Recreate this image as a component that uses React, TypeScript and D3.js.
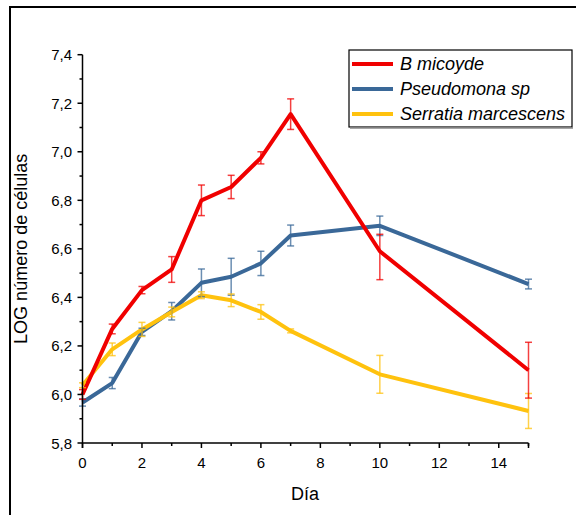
import React from "react";
import * as d3 from "d3";

// días de muestreo
const days = [0, 1, 2, 3, 4, 5, 6, 7, 10, 15];

const bMicoyde = [6.0, 6.27, 6.43, 6.515, 6.80, 6.855, 6.975, 7.155, 6.59, 6.10];
const bMicoydeErrUp = [0.02, 0.02, 0.015, 0.053, 0.063, 0.048, 0.025, 0.063, 0.07, 0.115];
const bMicoydeErrDown = [0.02, 0.02, 0.015, 0.053, 0.063, 0.048, 0.025, 0.063, 0.117, 0.115];

const pseudomona = [5.967, 6.047, 6.258, 6.343, 6.46, 6.485, 6.54, 6.655, 6.695, 6.455];
const pseudomonaErr = [0.015, 0.023, 0.015, 0.036, 0.057, 0.076, 0.05, 0.043, 0.04, 0.02];

const serratia = [6.038, 6.186, 6.268, 6.34, 6.409, 6.388, 6.34, 6.262, 6.083, 5.932];
const serratiaErr = [0.01, 0.026, 0.029, 0.02, 0.014, 0.026, 0.03, 0.008, 0.078, 0.072];

const xTicks = [0, 2, 4, 6, 8, 10, 12, 14];
const yTicks = [5.8, 6.0, 6.2, 6.4, 6.6, 6.8, 7.0, 7.2, 7.4];

const seriesNames = ["B micoyde", "Pseudomona sp", "Serratia marcescens"];

const RED = "#f00000";
const BLUE = "#3a6898";
const YELLOW = "#ffc20e";

const W = 576;
const H = 515;
const FONT = "'Liberation Sans', Arial, sans-serif";

export default function App() {
  const x = d3.scaleLinear().domain([0, 15]).range([82.5, 528.5]);
  const y = d3.scaleLinear().domain([5.8, 7.4]).range([443, 54.7]);
  const fmt = (v: number) => v.toFixed(1).replace(".", ",");

  const line = d3
    .line<[number, number]>()
    .x((d) => x(d[0]))
    .y((d) => y(d[1]));

  const series = [
    { name: seriesNames[1], color: BLUE, vals: pseudomona, up: pseudomonaErr, down: pseudomonaErr },
    { name: seriesNames[2], color: YELLOW, vals: serratia, up: serratiaErr, down: serratiaErr },
    { name: seriesNames[0], color: RED, vals: bMicoyde, up: bMicoydeErrUp, down: bMicoydeErrDown },
  ];

  const legend = [
    { name: seriesNames[0], color: RED },
    { name: seriesNames[1], color: BLUE },
    { name: seriesNames[2], color: YELLOW },
  ];

  const minorX = d3.range(0, 16, 1).filter((v) => v % 2 !== 0);
  const minorY = d3.range(5.9, 7.4, 0.2);
  const [x0, x1] = x.range();
  const [yb, yt] = y.range();

  return (
    <svg
      width={W}
      height={H}
      style={{ position: "absolute", left: 0, top: 0, background: "#fff" }}
      fontFamily={FONT}
    >
      <rect x={0} y={0} width={W} height={H} fill="#fff" />
      {/* marco exterior */}
      <rect x={10} y={7} width={600} height={600} fill="none" stroke="#000" strokeWidth={2} />

      {/* lineas */}
      {series.map((s) => (
        <path
          key={s.name}
          d={line(days.map((d, i) => [d, s.vals[i]]) as [number, number][]) || ""}
          fill="none"
          stroke={s.color}
          strokeWidth={4}
          strokeLinejoin="round"
        />
      ))}

      {/* barras de error */}
      {series.map((s) => (
        <g key={s.name + "-err"} stroke={s.color} strokeOpacity={0.75} strokeWidth={1.5} fill="none">
          {days.map((d, i) => {
            const cx = x(d);
            const top = y(s.vals[i] + s.up[i]);
            const bot = y(s.vals[i] - s.down[i]);
            return (
              <g key={i}>
                <line x1={cx} x2={cx} y1={top} y2={bot} />
                <line x1={cx - 3.5} x2={cx + 3.5} y1={top} y2={top} />
                <line x1={cx - 3.5} x2={cx + 3.5} y1={bot} y2={bot} />
              </g>
            );
          })}
        </g>
      ))}

      {/* ejes */}
      <g stroke="#000" strokeWidth={1.5}>
        <line x1={x0} x2={x1} y1={yb} y2={yb} />
        <line x1={x0} x2={x0} y1={yt} y2={yb + 5} />
        {xTicks.map((t) => (
          <line key={"xt" + t} x1={x(t)} x2={x(t)} y1={yb} y2={yb + 5} />
        ))}
        <line x1={x(15)} x2={x(15)} y1={yb} y2={yb + 5} />
        {minorX.map((t) => (
          <line key={"xm" + t} x1={x(t)} x2={x(t)} y1={yb} y2={yb + 3} />
        ))}
        {yTicks.map((t) => (
          <line key={"yt" + t} x1={x0 - 5} x2={x0} y1={y(t)} y2={y(t)} />
        ))}
        {minorY.map((t) => (
          <line key={"ym" + t} x1={x0 - 3} x2={x0} y1={y(t)} y2={y(t)} />
        ))}
      </g>

      <g fontSize={15} fill="#000">
        {xTicks.map((t) => (
          <text key={"xl" + t} x={x(t)} y={468} textAnchor="middle">
            {t}
          </text>
        ))}
        {yTicks.map((t) => (
          <text key={"yl" + t} x={72} y={y(t) + 5.5} textAnchor="end">
            {fmt(t)}
          </text>
        ))}
      </g>

      <text x={305} y={500} fontSize={18} textAnchor="middle">
        Día
      </text>
      <text
        transform={`translate(27, ${(yt + yb) / 2}) rotate(-90)`}
        fontSize={18}
        textAnchor="middle"
      >
        LOG número de células
      </text>

      {/* leyenda */}
      <rect x={349} y={50} width={223} height={77} fill="#fff" stroke="#000" strokeWidth={1.2} />
      <line x1={350} x2={573} y1={128} y2={128} stroke="#888" strokeWidth={1.5} />
      {legend.map((l, i) => (
        <g key={l.name}>
          <line x1={352} x2={393} y1={64 + i * 25} y2={64 + i * 25} stroke={l.color} strokeWidth={4} />
          <text x={400} y={69.5 + i * 25} fontSize={18} fontStyle="italic">
            {l.name}
          </text>
        </g>
      ))}
    </svg>
  );
}
